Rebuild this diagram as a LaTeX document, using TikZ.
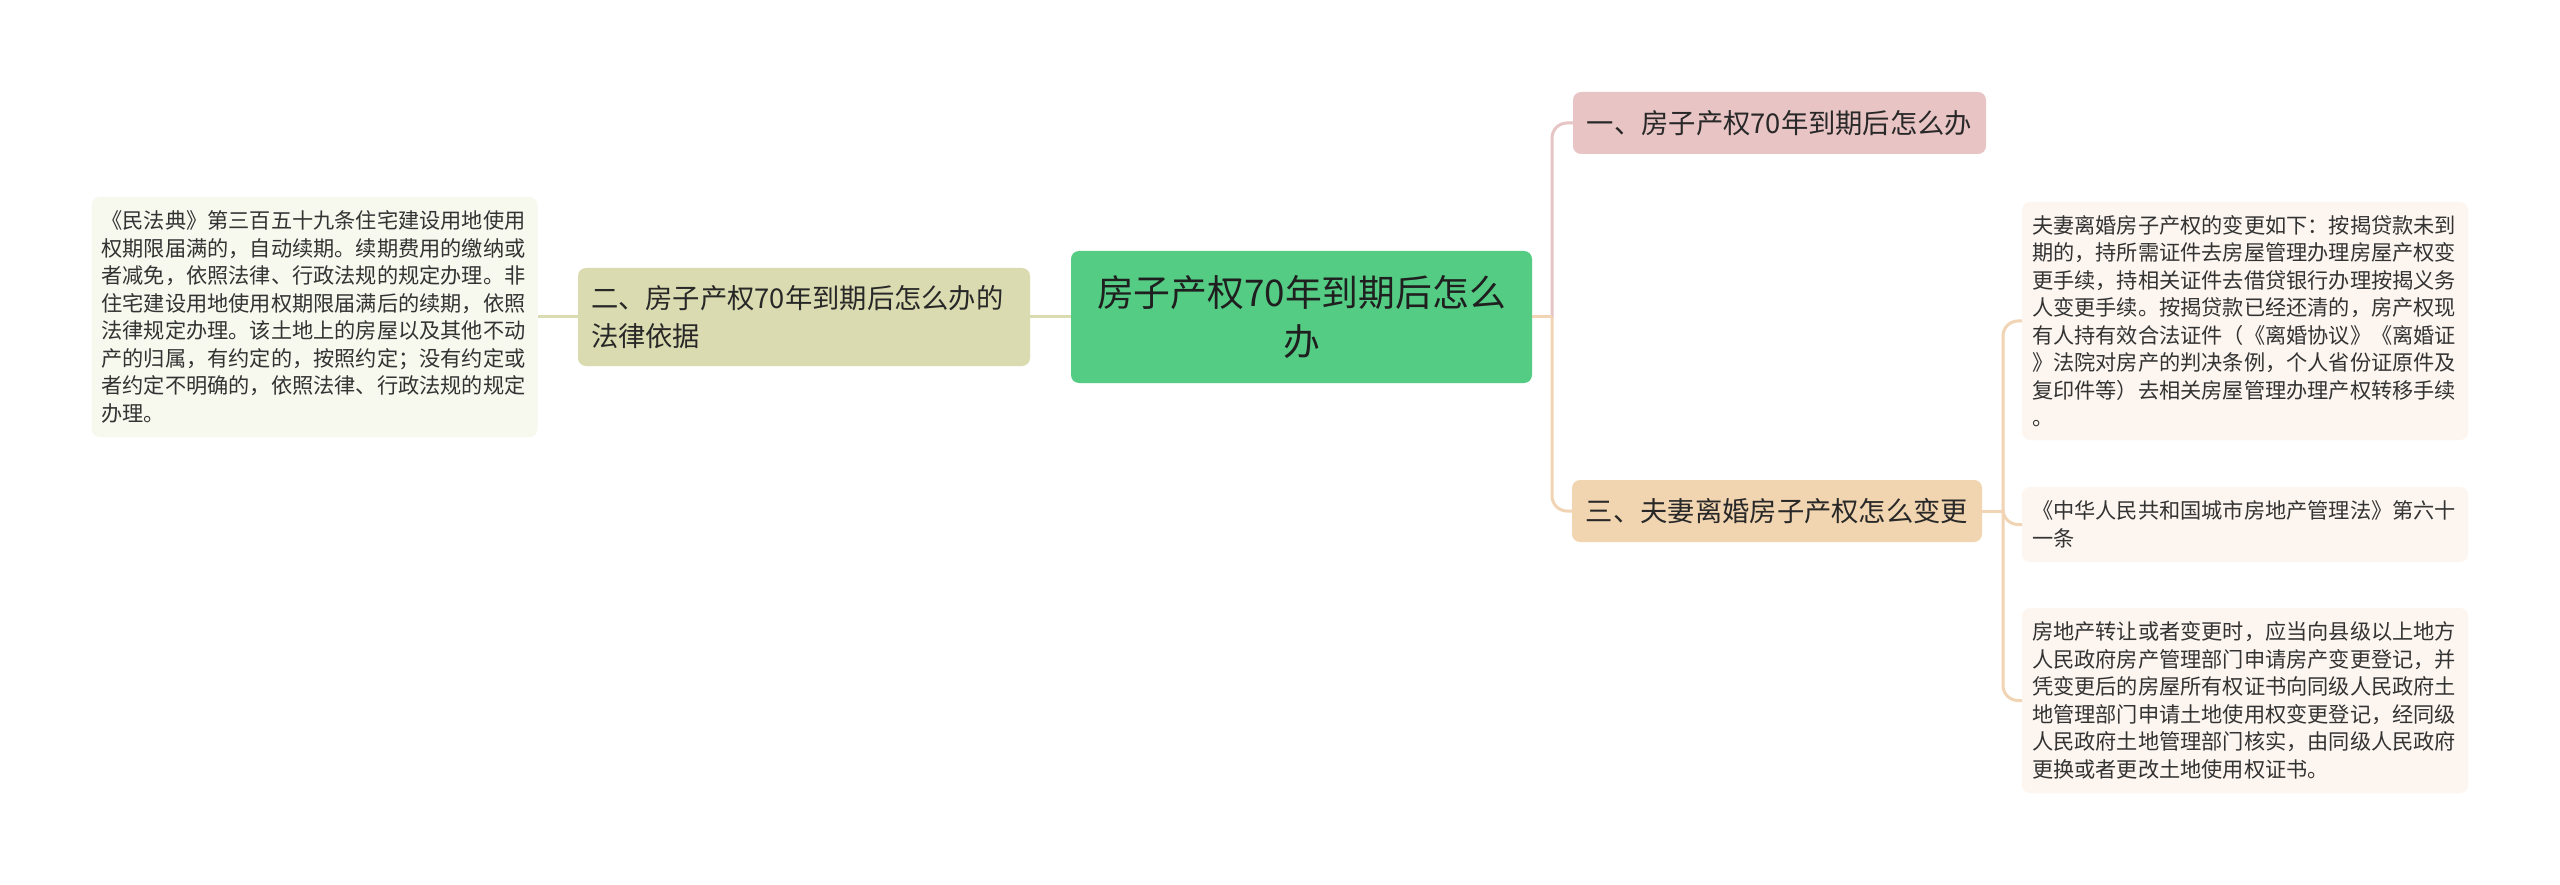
\documentclass[tikz,border=0pt]{standalone}
\usepackage{fontspec}
\newfontfamily\cjk{Noto Sans CJK SC}
\definecolor{rootfill}{RGB}{84,204,132}
\definecolor{pinkfill}{RGB}{232,196,196}
\definecolor{olivefill}{RGB}{218,219,176}
\definecolor{peachfill}{RGB}{241,212,176}
\definecolor{leafL}{RGB}{247,248,238}
\definecolor{leafR}{RGB}{253,246,240}
\definecolor{pinkline}{RGB}{230,197,197}
\definecolor{peachline}{RGB}{240,212,180}
\definecolor{oliveline}{RGB}{218,219,176}
\definecolor{txt}{RGB}{40,40,40}
\tikzset{
  base/.style={rounded corners=8pt, inner sep=0pt, text=txt},
  rootbox/.style={base, fill=rootfill, minimum width=461pt, minimum height=132pt, align=center,
    font=\cjk\fontsize{36.8}{49}\selectfont, text=black!88},
  branch/.style={base, minimum height=62pt, font=\cjk\fontsize{27.3}{37.5}\selectfont},
  leaf/.style={base, text width=426pt, inner xsep=10pt, align=left,
    font=\cjk\fontsize{21.2}{27.5}\selectfont, text=black!80},
  conn/.style={line width=3pt, rounded corners=15pt},
}
\begin{document}
\begin{tikzpicture}[x=1pt,y=-1pt]
\useasboundingbox (0,0) rectangle (2560,885);
\fill[white] (0,0) rectangle (2560,885);

\node[rootbox] (root) at (1301.5,317) {房子产权70年到期后怎么\\办};

\node[branch, fill=pinkfill, minimum width=413pt] (n1) at (1779.5,123) {一、房子产权70年到期后怎么办};
\node[branch, fill=olivefill, minimum height=98pt, text width=426pt, inner xsep=13pt, align=left] (n2) at (804,317) {二、房子产权70年到期后怎么办的\\法律依据};
\node[branch, fill=peachfill, minimum width=410pt] (n3) at (1777,511) {三、夫妻离婚房子产权怎么变更};

\node[leaf, fill=leafL, minimum height=240pt] (l2) at (314.5,317) {《民法典》第三百五十九条住宅建设用地使用\\权期限届满的，自动续期。续期费用的缴纳或\\者减免，依照法律、行政法规的规定办理。非\\住宅建设用地使用权期限届满后的续期，依照\\法律规定办理。该土地上的房屋以及其他不动\\产的归属，有约定的，按照约定；没有约定或\\者约定不明确的，依照法律、行政法规的规定\\办理。};

\node[leaf, fill=leafR, minimum height=238pt] (b1) at (2245,321) {夫妻离婚房子产权的变更如下：按揭贷款未到\\期的，持所需证件去房屋管理办理房屋产权变\\更手续，持相关证件去借贷银行办理按揭义务\\人变更手续。按揭贷款已经还清的，房产权现\\有人持有效合法证件（《离婚协议》《离婚证\\》法院对房产的判决条例，个人省份证原件及\\复印件等）去相关房屋管理办理产权转移手续\\。};
\node[leaf, fill=leafR, minimum height=75pt] (b2) at (2245,524.5) {《中华人民共和国城市房地产管理法》第六十\\一条};
\node[leaf, fill=leafR, minimum height=185pt] (b3) at (2245,700.5) {房地产转让或者变更时，应当向县级以上地方\\人民政府房产管理部门申请房产变更登记，并\\凭变更后的房屋所有权证书向同级人民政府土\\地管理部门申请土地使用权变更登记，经同级\\人民政府土地管理部门核实，由同级人民政府\\更换或者更改土地使用权证书。};

\coordinate (jr) at (1552,317);
\coordinate (j3) at (2003,511);

\draw[conn, oliveline] (root.west) -- (n2.east);
\draw[conn, oliveline] (n2.west) -- (l2.east);
\draw[conn, pinkline] (jr) |- (n1.west);
\draw[conn, peachline] (jr) |- (n3.west);
\draw[conn, peachline] (root.east) -- (jr);
\draw[conn, peachline] (n3.east) -- (j3);
\draw[conn, peachline] (j3) |- (b1.west);
\draw[conn, peachline] (j3) |- (b2.west);
\draw[conn, peachline] (j3) |- (b3.west);
\end{tikzpicture}
\end{document}
